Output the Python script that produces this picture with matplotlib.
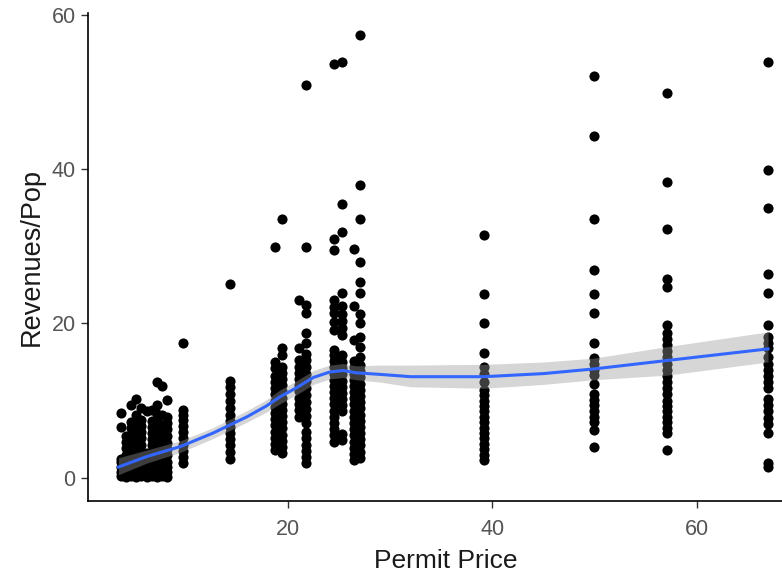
import matplotlib
matplotlib.use('Agg')
import matplotlib.pyplot as plt

plt.rcParams['font.family'] = ['Liberation Sans', 'DejaVu Sans']

# permit price of each column of points and the revenues/pop values seen in it
prices = [3.7, 4.2, 4.7, 5.2, 5.7, 6.2, 6.7, 7.2, 7.7, 8.2,
          9.8, 14.36, 18.8, 19.45, 21.05, 21.75, 24.5, 25.3, 26.5, 27.1,
          39.2, 49.9, 57.1, 66.95]
revenues = [
    [0.2, 0.8, 1.4, 2.0, 2.5, 6.6, 8.4],
    [0.1, 0.7, 1.3, 1.9, 2.4, 3.0, 3.8, 4.6, 5.4],
    [0.2, 0.8, 1.4, 2.0, 2.6, 3.3, 4.0, 4.8, 5.6, 6.4, 7.2, 9.4],
    [0.1, 0.7, 1.3, 1.9, 2.6, 3.3, 4.1, 4.9, 5.7, 6.5, 7.3, 8.1, 10.2],
    [0.2, 0.8, 1.4, 2.1, 2.8, 3.5, 4.3, 5.1, 5.9, 6.7, 7.5, 9.0],
    [0.1, 0.7, 1.3, 1.9, 2.5, 3.2, 8.6],
    [0.2, 0.8, 1.4, 2.0, 2.7, 3.4, 4.2, 5.0, 5.8, 6.6, 7.4, 8.8],
    [0.1, 0.7, 1.3, 2.0, 2.7, 3.4, 4.1, 4.9, 5.7, 6.5, 7.3, 8.3, 9.4, 12.4],
    [0.2, 0.8, 1.4, 2.1, 2.8, 3.5, 4.3, 5.1, 5.9, 6.8, 8.1, 11.9],
    [0.1, 0.7, 1.4, 2.1, 2.9, 3.7, 4.5, 5.4, 6.3, 7.1, 7.9, 10.1],
    [1.9, 2.7, 3.5, 4.3, 5.1, 5.9, 6.7, 7.5, 8.2, 8.8, 17.5],
    [2.5, 3.4, 4.2, 5.0, 5.8, 6.6, 7.4, 8.2, 9.0, 10.0, 10.9, 11.8, 12.6, 25.1],
    [3.6, 4.4, 5.2, 6.0, 6.8, 7.6, 8.4, 9.2, 10.0, 10.8, 11.6, 12.4, 13.2, 14.2, 15.0, 29.9],
    [3.2, 4.0, 4.8, 5.6, 6.4, 7.2, 8.0, 8.8, 9.6, 10.4, 11.2, 12.0, 12.8, 13.6, 14.4,
     15.9, 16.8, 33.5],
    [7.9, 8.8, 9.6, 10.4, 11.2, 12.0, 12.8, 13.6, 14.4, 15.3, 16.8, 23.0],
    [1.9, 2.7, 3.5, 4.3, 5.1, 6.0, 7.1, 8.0, 8.9, 9.8, 10.7, 11.6, 12.5, 13.4, 14.3,
     15.2, 16.1, 17.4, 18.7, 21.3, 22.4, 29.9, 50.9],
    [4.7, 5.5, 6.3, 7.1, 7.9, 8.7, 9.5, 10.3, 11.1, 11.9, 12.7, 13.5, 14.3, 15.1, 15.9,
     16.6, 19.2, 20.2, 21.3, 22.1, 23.0, 29.5, 30.9, 53.6],
    [4.9, 5.7, 8.6, 9.4, 10.2, 11.0, 11.8, 12.6, 13.4, 14.2, 15.0, 15.9, 18.5, 19.4,
     20.3, 21.2, 22.2, 23.9, 31.8, 35.5, 53.9],
    [2.3, 3.1, 3.9, 4.7, 5.5, 6.3, 7.1, 7.9, 8.7, 9.5, 10.3, 11.1, 11.9, 12.7, 13.5,
     14.3, 15.1, 17.8, 22.2, 29.7],
    [2.6, 3.4, 4.2, 5.0, 5.8, 6.6, 7.4, 8.2, 9.0, 9.8, 10.6, 11.4, 12.2, 13.0, 13.8,
     14.6, 15.7, 17.0, 18.2, 20.0, 21.2, 23.9, 25.3, 27.9, 33.5, 37.9, 57.3],
    [2.3, 3.0, 3.7, 4.4, 5.1, 5.8, 6.5, 7.2, 7.9, 8.6, 9.3, 10.0, 10.7, 11.4, 12.4,
     13.4, 14.4, 16.2, 20.0, 23.8, 31.4],
    [4.0, 6.2, 7.2, 7.9, 8.6, 9.4, 10.1, 10.8, 12.2, 13.3, 14.0, 14.7, 15.5, 17.4,
     21.3, 23.8, 26.9, 33.5, 44.3, 52.1],
    [3.6, 5.8, 6.5, 7.2, 7.9, 8.6, 9.3, 10.0, 10.8, 11.6, 12.4, 13.2, 14.0, 14.8, 15.6,
     16.4, 17.2, 18.0, 18.7, 19.8, 24.7, 25.8, 32.2, 38.3, 49.9],
    [1.4, 1.9, 5.8, 7.0, 7.8, 8.6, 9.4, 10.2, 11.6, 12.4, 13.2, 14.0, 14.8, 15.6, 16.8,
     17.5, 18.2, 19.8, 24.0, 26.4, 35.0, 39.9, 53.8],
]

# loess fit and its confidence band
smooth_x = [3.45, 6.2, 9.5, 12.7, 16.0, 17.9, 19.25, 20.9, 22.5, 24.1, 25.4, 26.7,
            29.0, 32.0, 39.2, 45.0, 49.9, 57.1, 66.95]
smooth_y = [1.4, 2.75, 4.05, 5.8, 7.9, 9.3, 10.5, 11.7, 13.0, 13.7, 13.9, 13.6,
            13.4, 13.1, 13.1, 13.5, 14.1, 15.2, 16.7]
smooth_lo = [0.4, 1.9, 3.3, 5.1, 7.2, 8.5, 9.6, 10.8, 12.1, 12.8, 13.0, 12.7,
             12.4, 11.8, 11.6, 12.1, 12.7, 13.3, 15.0]
smooth_hi = [2.6, 3.6, 4.8, 6.5, 8.7, 10.1, 11.4, 12.6, 13.9, 14.6, 14.8, 14.5,
             14.6, 14.6, 14.7, 15.0, 15.5, 17.0, 18.9]

xs = []
ys = []
for p, col in zip(prices, revenues):
    xs += [p] * len(col)
    ys += col

fig = plt.figure(figsize=(7.82, 5.79), dpi=100)
# panel runs past the right edge, as in the cropped original
ax = fig.add_axes([88.3 / 782, 78 / 579, 714 / 782, 488 / 579])

ax.plot(xs, ys, 'o', color='black', markersize=7.3, markeredgewidth=0, zorder=2)
ax.fill_between(smooth_x, smooth_lo, smooth_hi, color='#999999', alpha=0.4,
                linewidth=0, zorder=3)
ax.plot(smooth_x, smooth_y, color='#3366FF', linewidth=2.2, zorder=4)

ax.set_xlim(0.5, 70.3)
ax.set_ylim(-3.0, 60.2)
ax.set_xticks([20, 40, 60])
ax.set_yticks([0, 20, 40, 60])

for s in ['top', 'right']:
    ax.spines[s].set_visible(False)
for s in ['left', 'bottom']:
    ax.spines[s].set_linewidth(1.2)
    ax.spines[s].set_color('black')

ax.tick_params(length=4.7, width=1.0, color='#333333', labelsize=15.5,
               labelcolor='#555555')
ax.tick_params(axis='x', pad=8)
ax.tick_params(axis='y', pad=4.5)

ax.set_xlabel('Permit Price', fontsize=19, color='#1a1a1a', labelpad=7)
ax.set_ylabel('Revenues/Pop', fontsize=19.5, color='#1a1a1a', labelpad=5)

fig.savefig('out.png', dpi=100)
